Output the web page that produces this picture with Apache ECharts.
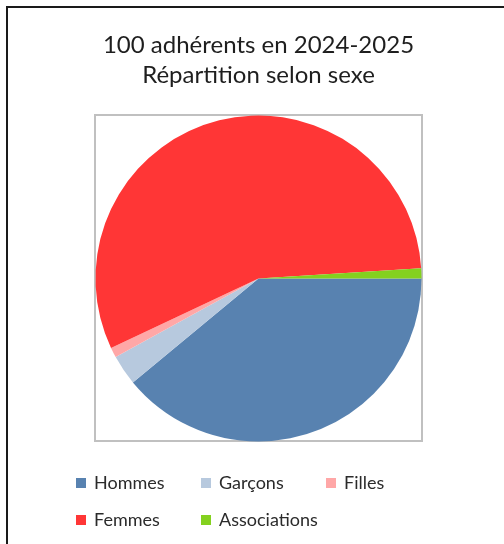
<!DOCTYPE html>
<html><head><meta charset="utf-8">
<script src="https://cdn.jsdelivr.net/npm/echarts@6/dist/echarts.min.js"></script>
<style>html,body{margin:0;padding:0;background:#fff}#c{width:504px;height:544px}</style>
</head><body><div id="c"></div>
<script>
const categories = ['Hommes', 'Garçons', 'Filles', 'Femmes', 'Associations'];
const values = [39, 3, 1, 56, 1];
const colors = ['#5882b0', '#b7c9de', '#ffa7a7', '#ff3636', '#84d11f'];
const titleLines = ['100 adhérents en 2024-2025', 'Répartition selon sexe'];

const FONT = 'Lato, "Open Sans", sans-serif';
const chart = echarts.init(document.getElementById('c'));
const legendCommon = {
  orient: 'horizontal', icon: 'rect', itemWidth: 10, itemHeight: 10, itemGap: 10, padding: 0,
  textStyle: { fontFamily: FONT, fontSize: 18, color: '#2b2b2b', width: 97, lineHeight: 20, padding: [0, 0, 0, 3] },
  selectedMode: false
};
chart.setOption({
  animation: false,
  color: colors,
  graphic: [
    { type: 'rect', shape: { x: 7, y: 7, width: 620, height: 620 }, style: { fill: 'none', stroke: '#1a1a1a', lineWidth: 2 }, silent: true },
    { type: 'rect', shape: { x: 95, y: 115, width: 327, height: 326 }, style: { fill: 'none', stroke: '#c0c0c0', lineWidth: 2 }, silent: true, z: 0 },
    { type: 'text', x: 258.5, y: 45, style: { text: titleLines[0], fontFamily: FONT, fontSize: 24, fill: '#1e1e1e', align: 'center', verticalAlign: 'middle' } },
    { type: 'text', x: 258.5, y: 75, style: { text: titleLines[1], fontFamily: FONT, fontSize: 24, fill: '#1e1e1e', align: 'center', verticalAlign: 'middle' } }
  ],
  legend: [
    Object.assign({}, legendCommon, { left: 76, top: 473, data: categories.slice(0, 3) }),
    Object.assign({}, legendCommon, { left: 76, top: 510, data: categories.slice(3) })
  ],
  series: [{
    type: 'pie',
    center: [258.5, 278.5],
    radius: 163,
    startAngle: 0,
    clockwise: true,
    label: { show: false },
    labelLine: { show: false },
    emphasis: { scale: false },
    itemStyle: { borderWidth: 0 },
    data: categories.map((n, i) => ({ name: n, value: values[i] }))
  }]
});
</script></body></html>
